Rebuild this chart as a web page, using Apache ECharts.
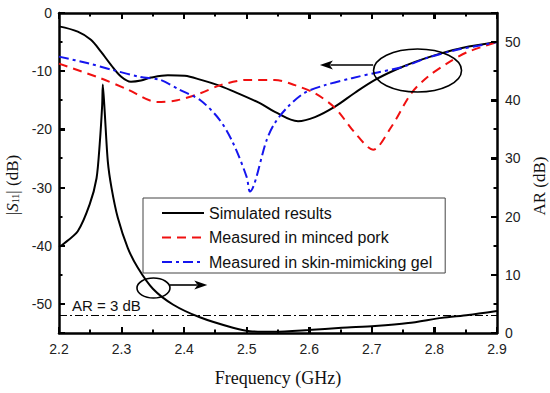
<!DOCTYPE html>
<html><head><meta charset="utf-8">
<script src="https://cdn.jsdelivr.net/npm/echarts@6/dist/echarts.min.js"></script>
<style>html,body{margin:0;padding:0;background:#fff;overflow:hidden}#c{width:550px;height:393px}#tmp{position:absolute;left:-2000px;top:0;width:550px;height:393px}</style>
</head><body><div id="c"></div><div id="tmp"></div>
<script>
// Simulated |S11| (dB)
const simFreq = [2.2, 2.23, 2.251, 2.267, 2.283, 2.299, 2.315, 2.331, 2.347, 2.374, 2.401, 2.427, 2.454, 2.475, 2.521, 2.545, 2.582, 2.609, 2.641, 2.673, 2.705, 2.737, 2.769, 2.812, 2.844, 2.9];
const simS11  = [-2.3, -3.2, -4.6, -6.65, -8.9, -10.9, -11.8, -11.6, -11.1, -10.7, -10.8, -11.5, -12.4, -13.3, -15.5, -17.0, -18.6, -17.9, -16.1, -13.7, -11.5, -9.8, -8.4, -6.9, -6.0, -5.0];
// Measured in minced pork |S11| (dB)
const porkFreq = [2.2, 2.266, 2.309, 2.357, 2.389, 2.426, 2.458, 2.501, 2.545, 2.577, 2.609, 2.641, 2.673, 2.702, 2.731, 2.763, 2.789, 2.821, 2.853, 2.9];
const porkS11  = [-8.7, -11.2, -13.1, -15.3, -15.0, -13.8, -12.4, -11.5, -11.5, -12.4, -13.8, -16.3, -20.6, -23.5, -19.6, -13.8, -11.0, -8.6, -6.7, -5.0];
// Measured in skin-mimicking gel |S11| (dB)
const gelFreq = [2.2, 2.245, 2.286, 2.33, 2.362, 2.393, 2.426, 2.457, 2.478, 2.5, 2.505, 2.532, 2.545, 2.566, 2.593, 2.625, 2.668, 2.705, 2.748, 2.789, 2.833, 2.876, 2.9];
const gelS11  = [-7.5, -8.6, -9.8, -11.0, -11.5, -13.2, -15.0, -18.4, -22.3, -28.2, -30.7, -21.8, -18.9, -16.1, -13.7, -12.4, -11.2, -10.3, -9.3, -7.7, -6.4, -5.5, -5.0];
// Simulated AR (dB)
const arFreq = [2.2, 2.206, 2.23, 2.249, 2.26, 2.265, 2.269, 2.27, 2.273, 2.278, 2.284, 2.294, 2.31, 2.326, 2.35, 2.382, 2.425, 2.478, 2.505, 2.545, 2.598, 2.652, 2.705, 2.758, 2.812, 2.854, 2.9];
const arVal  = [14.8, 15.2, 17.5, 22.1, 26.6, 32.4, 39.2, 42.7, 38.1, 29.5, 24.9, 19.8, 14.6, 11.2, 7.6, 4.9, 2.7, 0.9, 0.3, 0.2, 0.5, 0.9, 1.2, 1.7, 2.6, 3.1, 3.8];
const arLimit = 3;

const seriesNames = ['Simulated results', 'Measured in minced pork', 'Measured in skin-mimicking gel'];
const xTicks = [2.2, 2.9, 0.1];
const s11Range = [-55, 0];
const arRange = [0, 55];
// tick positions (values)
const xMajor = [2.2, 2.3, 2.4, 2.5, 2.6, 2.7, 2.8, 2.9];
const xMinor = [2.25, 2.35, 2.45, 2.55, 2.65, 2.75, 2.85];
const s11Major = [-50, -40, -30, -20, -10, 0];
const s11Minor = [-45, -35, -25, -15, -5];
const arMajor = [0, 10, 20, 30, 40, 50];
const arMinor = [5, 15, 25, 35, 45];

const zip = (a, b) => a.map((v, i) => [v, b[i]]);
const LBL = {fontFamily: 'Liberation Sans, Arial, sans-serif', fontSize: 14, color: '#222'};
const mkLine = () => ({show: true, onZero: false, lineStyle: {color: '#000', width: 2.5}});
const mkTick = () => ({show: true, inside: true, length: 6, lineStyle: {width: 2, color: '#000'}});

function buildOption() {
  return {
  animation: false,
  grid: {left: 59, right: 53, top: 13, bottom: 60, outerBoundsMode: 'none'},
  legend: {
    data: seriesNames, orient: 'vertical', left: 143, top: 198,
    padding: [7, 13, 3, 18], itemGap: 8.5, itemWidth: 42, itemHeight: 14,
    borderColor: '#444', borderWidth: 1, backgroundColor: '#fff',
    itemStyle: {opacity: 0},
    textStyle: {fontFamily: 'Liberation Sans, Arial, sans-serif', fontSize: 16, color: '#111'},
    selectedMode: false
  },
  xAxis: [
    {type: 'value', position: 'bottom', min: xTicks[0], max: xTicks[1], interval: xTicks[2],
     axisLine: mkLine(), splitLine: {show: false}, axisTick: mkTick(),
     axisLabel: Object.assign({margin: 9, formatter: v => v.toFixed(1)}, LBL),
     name: 'Frequency (GHz)', nameLocation: 'middle', nameGap: 36,
     nameTextStyle: {fontFamily: 'Liberation Serif, Times New Roman, serif', fontSize: 18, color: '#111'}},
    {type: 'value', position: 'top', min: xTicks[0], max: xTicks[1], interval: xTicks[2],
     axisLine: mkLine(), splitLine: {show: false}, axisTick: mkTick(),
     axisLabel: {show: false}}
  ],
  yAxis: [
    {type: 'value', position: 'left', min: s11Range[0], max: s11Range[1], splitNumber: 5,
     axisLine: mkLine(), splitLine: {show: false}, axisTick: mkTick(),
     axisLabel: Object.assign({margin: 7, formatter: v => (v % 10 === 0 ? String(v) : '')}, LBL),
     name: '{a||}{i|S}{sub|11}{a|| (dB)}', nameLocation: 'middle', nameGap: 33,
     nameTextStyle: {padding: [0, 24, 0, 0], rich: {
       a: {fontFamily: 'Liberation Serif, serif', fontSize: 17, color: '#111', lineHeight: 20, verticalAlign: 'bottom'},
       i: {fontFamily: 'Liberation Serif, serif', fontSize: 17, fontStyle: 'italic', color: '#111', lineHeight: 20, verticalAlign: 'bottom'},
       sub: {fontFamily: 'Liberation Serif, serif', fontSize: 10, color: '#111', lineHeight: 14, verticalAlign: 'bottom'}}}},
    {type: 'value', position: 'right', min: arRange[0], max: arRange[1], splitNumber: 5,
     axisLine: mkLine(), splitLine: {show: false}, axisTick: mkTick(),
     axisLabel: Object.assign({margin: 8, formatter: v => (v % 10 === 0 ? String(v) : '')}, LBL),
     name: 'AR (dB)', nameLocation: 'middle', nameGap: 33,
     nameTextStyle: {fontFamily: 'Liberation Serif, Times New Roman, serif', fontSize: 17, color: '#111', padding: [0, 26, 0, 0]}}
  ],
  series: [
    {name: seriesNames[0], type: 'line', xAxisIndex: 0, yAxisIndex: 0, data: zip(simFreq, simS11),
     smooth: 0.35, symbol: 'none', color: '#000', lineStyle: {color: '#000', width: 2}},
    {name: seriesNames[1], type: 'line', xAxisIndex: 0, yAxisIndex: 0, data: zip(porkFreq, porkS11),
     smooth: 0.3, symbol: 'none', color: '#f01010', lineStyle: {color: '#f01010', width: 2, type: [9, 6]}},
    {name: seriesNames[2], type: 'line', xAxisIndex: 0, yAxisIndex: 0, data: zip(gelFreq, gelS11),
     smooth: 0.3, symbol: 'none', color: '#1515ee', lineStyle: {color: '#1515ee', width: 2, type: [10, 4, 3, 4]}},
    {name: 'AR', type: 'line', xAxisIndex: 0, yAxisIndex: 1, data: zip(arFreq, arVal),
     smooth: 0.25, symbol: 'none', color: '#000', lineStyle: {color: '#000', width: 2},
     markLine: {silent: true, symbol: 'none', animation: false,
       data: [{yAxis: arLimit}],
       lineStyle: {color: '#000', width: 1, type: [8, 3, 2, 3]},
       label: {show: true, position: 'insideStartTop', formatter: 'AR = 3 dB', distance: [13, 3],
         fontFamily: 'Liberation Sans, Arial, sans-serif', fontSize: 15, color: '#111'}}}
  ]
  };
}

// annotation ellipses, arrows and inward axis ticks, positioned through the axes of a scratch chart
const upper = {c: [2.773, -9.88], rx: 44, ry: 21.5, from: [2.702, -8.94], to: [2.617, -8.94], axis: 0};
const lower = {c: [2.351, 7.73], rx: 16.5, ry: 10, from: [2.377, 8.25], to: [2.437, 8.25], axis: 1};
const scratch = echarts.init(document.getElementById('tmp'), null, {renderer: 'svg'});
scratch.setOption(buildOption());
function px(p, axis) { return scratch.convertToPixel({xAxisIndex: 0, yAxisIndex: axis}, p); }
const g = [];
[upper, lower].forEach(a => {
  const c = px(a.c, a.axis), f = px(a.from, a.axis), t = px(a.to, a.axis);
  g.push({type: 'ellipse', shape: {cx: c[0], cy: c[1], rx: a.rx, ry: a.ry}, style: {fill: 'rgba(0,0,0,0)', stroke: '#000', lineWidth: 1.6}, z: 10});
  const dir = Math.sign(t[0] - f[0]);
  const headLen = 13, headW = 4.5;
  g.push({type: 'line', shape: {x1: f[0], y1: f[1], x2: t[0] - dir * headLen * 0.8, y2: t[1]}, style: {stroke: '#000', lineWidth: 1.6}, z: 10});
  g.push({type: 'polygon', shape: {points: [[t[0], t[1]], [t[0] - dir * headLen, t[1] - headW], [t[0] - dir * headLen * 0.75, t[1]], [t[0] - dir * headLen, t[1] + headW]]}, style: {fill: '#000'}, z: 10});
});
const corner0 = px([xTicks[0], s11Range[0]], 0), corner1 = px([xTicks[1], s11Range[1]], 0);
const L = corner0[0], B = corner0[1], R = corner1[0], T = corner1[1];
const tk = (x1, y1, x2, y2) => g.push({type: 'line', shape: {x1: x1, y1: y1, x2: x2, y2: y2}, style: {stroke: '#000', lineWidth: 2}, z: 10});
xMajor.forEach(v => { const x = Math.round(px([v, s11Range[0]], 0)[0]); tk(x, B, x, B - 6); tk(x, T, x, T + 6); });
xMinor.forEach(v => { const x = Math.round(px([v, s11Range[0]], 0)[0]); tk(x, B, x, B - 3.5); tk(x, T, x, T + 3.5); });
s11Major.forEach(v => { const y = Math.round(px([xTicks[0], v], 0)[1]); tk(L, y, L + 6, y); });
s11Minor.forEach(v => { const y = Math.round(px([xTicks[0], v], 0)[1]); tk(L, y, L + 3.5, y); });
arMajor.forEach(v => { const y = Math.round(px([xTicks[0], v], 1)[1]); tk(R, y, R - 6, y); });
arMinor.forEach(v => { const y = Math.round(px([xTicks[0], v], 1)[1]); tk(R, y, R - 3.5, y); });
scratch.dispose();

const chart = echarts.init(document.getElementById('c'), null, {renderer: 'svg'});
const finalOption = buildOption();
finalOption.graphic = {elements: g};
chart.setOption(finalOption);
</script></body></html>
